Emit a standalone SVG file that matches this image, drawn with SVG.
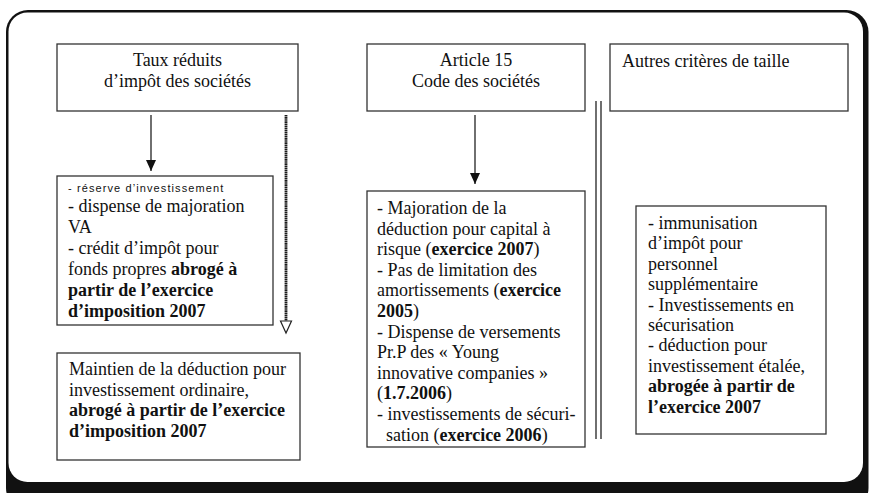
<svg xmlns="http://www.w3.org/2000/svg" width="869" height="493" viewBox="0 0 869 493">
<style>
.box{fill:#fff;stroke:#333;stroke-width:1.3}
.t{font-family:'Liberation Serif','Times New Roman',serif;font-size:18px;fill:#111}
.c{text-anchor:middle}
.b{font-weight:bold}
.s{font-family:'Liberation Sans',Arial,sans-serif;font-size:11px;letter-spacing:1.1px;fill:#111}
.ln{stroke:#222;stroke-width:1.3;fill:none}
</style>
<defs>
<marker id="ah" markerWidth="11" markerHeight="10" refX="11" refY="5" orient="auto" markerUnits="userSpaceOnUse" viewBox="0 0 11 10">
<path d="M0,0 L11,5 L0,10 Z" fill="#111"/>
</marker>
</defs>
<g id="frame">
<rect x="6" y="10" width="862.5" height="500" rx="22" fill="#111"/>
<rect x="8.5" y="12.5" width="854.5" height="469.5" rx="19" fill="#fff"/>
</g>
<g id="connectors">
<line class="ln" x1="151" y1="115" x2="151" y2="171" marker-end="url(#ah)"/>
<line class="ln" x1="475" y1="115" x2="475" y2="184" marker-end="url(#ah)"/>
<line x1="286" y1="115" x2="286" y2="321" stroke="#1a1a1a" stroke-width="2.8" stroke-dasharray="1.6 0.5"/>
<polygon points="280.5,321 291.5,321 286,333" fill="#fff" stroke="#222" stroke-width="1.2"/>
<line class="ln" x1="596" y1="101" x2="596" y2="439"/>
<line class="ln" x1="601" y1="101" x2="601" y2="439"/>
</g>
<g id="n-taux">
<rect class="box" x="57" y="44" width="241" height="67"/>
<text class="t c" x="177.5" y="66">Taux réduits</text>
<text class="t c" x="177.5" y="87">d’impôt des sociétés</text>
</g>
<g id="n-article">
<rect class="box" x="367" y="44" width="218" height="67"/>
<text class="t c" x="476" y="66">Article 15</text>
<text class="t c" x="476" y="87">Code des sociétés</text>
</g>
<g id="n-autres">
<rect class="box" x="610" y="44" width="238" height="67"/>
<text class="t" x="622" y="67">Autres critères de taille</text>
</g>
<g id="n-reserve">
<rect class="box" x="57" y="176" width="216" height="149"/>
<text class="s" x="68" y="192">- réserve d’investissement</text>
<text class="t" x="68" y="212">- dispense de majoration</text>
<text class="t" x="68" y="233">VA</text>
<text class="t" x="68" y="254">- crédit d’impôt pour</text>
<text class="t" x="68" y="275">fonds propres <tspan class="b">abrogé à</tspan></text>
<text class="t b" x="68" y="296">partir de l’exercice</text>
<text class="t b" x="68" y="317">d’imposition 2007</text>
</g>
<g id="n-maintien">
<rect class="box" x="57" y="353" width="243" height="107"/>
<text class="t" x="69" y="375">Maintien de la déduction pour</text>
<text class="t" x="69" y="396">investissement ordinaire,</text>
<text class="t b" x="69" y="416">abrogé à partir de l’exercice</text>
<text class="t b" x="69" y="437">d’imposition 2007</text>
</g>
<g id="n-majoration">
<rect class="box" x="367" y="191" width="218" height="256"/>
<text class="t" x="377" y="214">- Majoration de la</text>
<text class="t" x="377" y="234.6">déduction pour capital à</text>
<text class="t" x="377" y="255.2">risque (<tspan class="b">exercice 2007</tspan>)</text>
<text class="t" x="377" y="275.8">- Pas de limitation des</text>
<text class="t" x="377" y="296.4">amortissements (<tspan class="b">exercice</tspan></text>
<text class="t" x="377" y="317"><tspan class="b">2005</tspan>)</text>
<text class="t" x="377" y="337.6">- Dispense de versements</text>
<text class="t" x="377" y="358.2">Pr.P des « Young</text>
<text class="t" x="377" y="378.8">innovative companies »</text>
<text class="t" x="377" y="399.4">(<tspan class="b">1.7.2006</tspan>)</text>
<text class="t" x="377" y="420">- investissements de sécuri-</text>
<text class="t" x="386" y="440.6">sation (<tspan class="b">exercice 2006</tspan>)</text>
</g>
<g id="n-immunisation">
<rect class="box" x="636" y="206" width="190" height="228"/>
<text class="t" x="648" y="229">- immunisation</text>
<text class="t" x="648" y="249.4">d’impôt pour</text>
<text class="t" x="648" y="269.8">personnel</text>
<text class="t" x="648" y="290.2">supplémentaire</text>
<text class="t" x="648" y="310.6">- Investissements en</text>
<text class="t" x="648" y="331">sécurisation</text>
<text class="t" x="648" y="351.4">- déduction pour</text>
<text class="t" x="648" y="371.8">investissement étalée,</text>
<text class="t b" x="648" y="392.2">abrogée à partir de</text>
<text class="t b" x="648" y="412.6">l’exercice 2007</text>
</g>
</svg>
